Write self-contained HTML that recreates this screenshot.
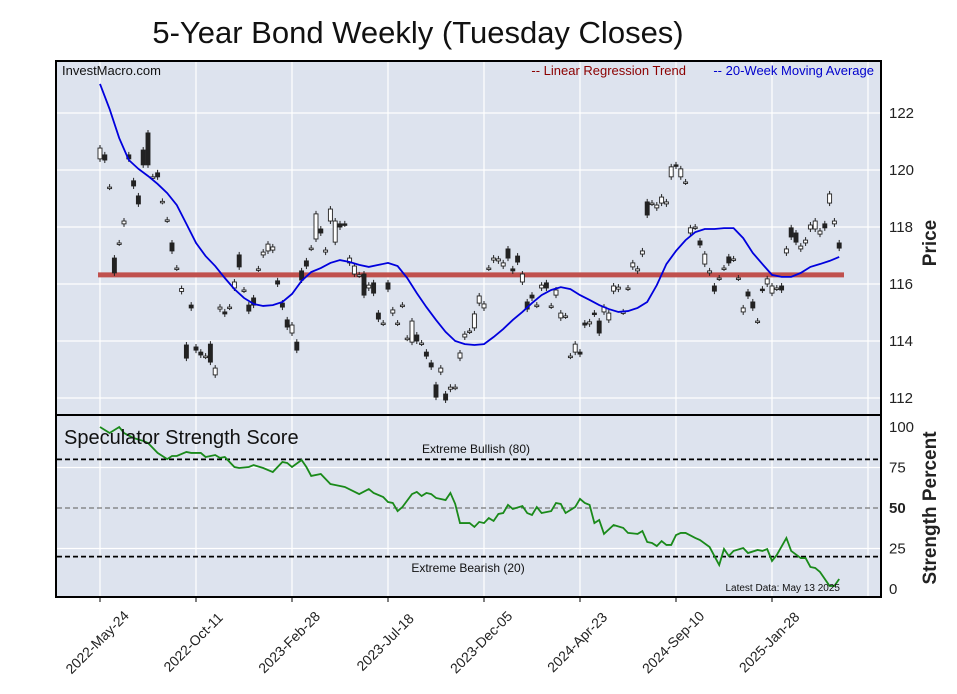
<!DOCTYPE html>
<html><head><meta charset="utf-8"><style>
body{margin:0;background:#fff;width:957px;height:694px;overflow:hidden}
svg{display:block;font-family:"Liberation Sans",Arial,sans-serif}
</style></head><body>
<svg id="chart" width="957" height="694" viewBox="0 0 957 694">
<text x="418" y="43" font-size="31" text-anchor="middle" fill="#111">5-Year Bond Weekly (Tuesday Closes)</text>
<rect x="56" y="61" width="825" height="354" fill="#dde3ee"/>
<rect x="56" y="415" width="825" height="182" fill="#dde3ee"/>
<g id="grid"></g>
<g id="marks"></g>
<rect x="56" y="61" width="825" height="536" fill="none" stroke="#000" stroke-width="2"/>
<line x1="56" y1="415" x2="881" y2="415" stroke="#000" stroke-width="2"/>
<text x="62" y="75" font-size="13" fill="#111">InvestMacro.com</text>
<text x="686" y="75" font-size="13" fill="#8b0000" text-anchor="end">-- Linear Regression Trend</text>
<text x="874" y="75" font-size="13" fill="#0000cc" text-anchor="end">-- 20-Week Moving Average</text>
<text x="64" y="444" font-size="20" fill="#111">Speculator Strength Score</text>
<text x="476" y="453" font-size="12" fill="#111" text-anchor="middle">Extreme Bullish (80)</text>
<text x="468" y="572" font-size="12" fill="#111" text-anchor="middle">Extreme Bearish (20)</text>
<text x="840" y="591" font-size="10" fill="#111" text-anchor="end">Latest Data: May 13 2025</text>
<text transform="translate(936,243) rotate(-90)" font-size="19" font-weight="bold" fill="#222" text-anchor="middle">Price</text>
<text transform="translate(936,508) rotate(-90)" font-size="19" font-weight="bold" fill="#222" text-anchor="middle">Strength Percent</text>
</svg>
<script>
const priceTicks=[112,114,116,118,120,122];
const strengthTicks=[0,25,50,75,100];
const dateLabels=["2022-May-24","2022-Oct-11","2023-Feb-28","2023-Jul-18","2023-Dec-05","2024-Apr-23","2024-Sep-10","2025-Jan-28"];
const dateWeeks=[0,20,40,60,80,100,120,140];
const candleHigh=[120.77,120.53,119.40,116.91,117.44,118.21,120.53,119.62,119.09,120.70,121.30,119.76,119.90,118.90,118.25,117.44,116.56,115.84,113.86,115.26,113.79,113.61,113.47,113.89,113.05,115.19,115.02,115.19,116.07,117.02,115.79,115.26,115.51,116.53,117.12,117.40,117.30,116.11,115.33,114.74,114.56,113.96,116.46,116.81,117.26,118.46,117.93,117.19,118.63,118.21,118.11,118.11,116.91,116.63,116.32,116.35,115.96,116.04,114.98,114.63,116.04,115.09,114.63,115.26,114.10,114.70,114.21,113.93,113.61,113.23,112.46,113.05,112.14,112.38,112.38,113.58,114.24,114.35,114.95,115.58,115.30,116.56,116.91,116.88,116.74,117.23,116.53,116.98,116.35,115.37,115.61,115.26,115.96,116.04,115.23,115.79,114.98,114.88,113.47,113.89,113.61,114.63,114.67,114.98,114.70,115.19,114.98,115.93,115.89,115.02,115.86,116.74,116.53,117.16,118.88,118.84,118.77,119.05,118.88,120.11,120.18,120.04,119.58,117.97,118.00,117.51,117.05,116.46,115.93,116.21,116.56,116.95,116.88,116.21,115.16,115.72,115.37,114.70,115.82,116.18,115.93,115.86,115.93,117.23,117.97,117.79,117.33,117.54,118.07,118.21,117.86,118.11,119.16,118.21,117.44];
const candleLow=[120.39,120.35,119.40,116.39,117.44,118.11,120.39,119.44,118.81,120.18,120.18,119.76,119.76,118.90,118.25,117.16,116.56,115.74,113.40,115.16,113.68,113.51,113.47,113.26,112.81,115.12,114.95,115.19,115.86,116.60,115.79,115.05,115.26,116.53,117.02,117.16,117.19,116.00,115.19,114.49,114.28,113.68,116.14,116.63,117.26,117.58,117.79,117.12,118.21,117.47,118.00,118.11,116.74,116.35,116.32,115.61,115.86,115.68,114.77,114.63,115.82,114.98,114.63,115.26,114.10,113.96,114.00,113.93,113.47,113.09,112.03,112.91,111.93,112.31,112.38,113.40,114.14,114.35,114.46,115.33,115.16,116.56,116.84,116.81,116.63,116.91,116.46,116.77,116.07,115.12,115.51,115.26,115.86,115.86,115.23,115.61,114.81,114.88,113.47,113.61,113.54,114.56,114.60,114.95,114.28,115.02,114.74,115.75,115.82,115.02,115.86,116.60,116.46,117.05,118.42,118.84,118.67,118.84,118.81,119.76,120.14,119.76,119.58,117.79,118.00,117.37,116.70,116.39,115.75,116.21,116.56,116.74,116.88,116.21,115.02,115.58,115.16,114.70,115.79,116.00,115.68,115.86,115.79,117.09,117.65,117.47,117.23,117.44,117.93,117.93,117.75,117.97,118.84,118.11,117.26];
const candleUp=[1,0,1,0,1,1,0,0,0,0,0,1,0,1,1,0,1,1,0,0,0,0,1,0,1,1,0,1,1,0,1,0,0,1,1,1,1,0,0,0,1,0,0,0,1,1,0,1,1,1,0,0,1,1,1,0,1,0,0,1,0,1,1,1,1,1,0,1,0,0,0,1,0,1,1,1,1,1,1,1,1,1,1,1,1,0,0,0,1,0,0,1,1,0,1,1,1,1,1,1,0,0,1,0,0,1,1,1,1,1,1,1,1,1,0,1,1,1,1,1,0,1,1,1,1,0,1,1,0,1,1,0,1,1,1,0,0,1,0,1,1,1,0,1,0,0,1,1,1,1,1,0,1,1,0];
const maValues=[123.02,122.14,121.12,120.35,120.04,119.79,119.51,119.19,118.77,118.11,117.44,116.98,116.63,116.21,115.82,115.51,115.30,115.23,115.26,115.37,115.65,116.11,116.42,116.56,116.74,116.84,116.77,116.67,116.60,116.67,116.74,116.63,116.21,115.68,115.19,114.74,114.32,114.00,113.89,113.86,113.89,114.14,114.42,114.74,115.02,115.33,115.61,115.79,115.89,115.82,115.61,115.44,115.26,115.12,115.02,115.05,115.16,115.37,115.96,116.70,117.16,117.54,117.82,117.93,117.93,117.96,117.96,117.61,117.09,116.70,116.32,116.25,116.25,116.39,116.60,116.70,116.81,116.95];
const trendValue=[116.32,116.32];
const strengthWeeks=[0,2,4,5,7,9,10,12,14,15,16,18,19,21,22,24,25,26,28,29,31,32,34,36,38,39,40,42,43,44,46,48,49,51,54,56,57,59,60,61,62,63,65,66,67,68,69,70,72,73,74,75,77,78,79,80,81,82,83,84,85,86,88,89,90,91,92,94,95,96,97,99,100,101,102,103,104,105,107,109,110,112,113,114,115,116,117,118,119,120,121,122,124,125,127,129,130,131,132,134,135,137,138,139,140,141,143,144,146,147,148,149,150,152,153,154];
const strengthValues=[100,96.3,100,96.3,93.2,91.4,90.1,84.0,80.2,82.1,82.1,84.6,84.0,84.0,81.5,82.7,80.9,81.5,75.3,74.7,75.3,76.5,74.7,72.2,78.4,77.8,75.3,79.6,75.3,69.8,71.0,64.8,64.2,63.0,58.6,61.7,59.3,56.8,53.7,53.1,48.1,50.6,58.6,59.9,57.4,59.3,58.6,56.2,54.9,59.3,52.5,40.7,40.7,38.3,41.4,40.7,43.8,42.0,46.3,46.9,51.9,49.4,51.2,46.9,45.7,50.6,46.9,48.1,53.1,52.5,46.9,50.6,55.6,53.1,51.9,40.7,42.6,34.0,39.5,37.7,34.6,34.0,35.8,29.0,28.4,26.5,29.6,27.2,27.2,33.3,34.6,34.6,31.5,30.2,25.9,14.8,24.7,20.4,23.5,25.3,22.2,24.1,23.5,24.7,17.3,21.0,31.5,23.5,19.1,19.1,13.6,13.0,10.5,1.9,1.9,6.2];
const strengthRefLines=[80,50,20];

const NS="http://www.w3.org/2000/svg";
const xw=w=>100+4.8*w;
const yp=p=>284-(p-116)*28.5;
const ys=s=>589-s*1.62;
const grid=document.getElementById('grid'), marks=document.getElementById('marks'), svg=document.getElementById('chart');
function mk(tag,attrs,parent){const e=document.createElementNS(NS,tag);for(const k in attrs)e.setAttribute(k,attrs[k]);parent.appendChild(e);return e;}

dateWeeks.concat([160]).forEach((w,i)=>{
  const l=mk('line',{x1:xw(w),x2:xw(w),y1:62,y2:596,stroke:'#fff','stroke-width':1.2},grid);
  
  
});
priceTicks.forEach(p=>{
  const l=mk('line',{x1:57,x2:880,y1:yp(p),y2:yp(p),stroke:'#fff','stroke-width':1.2},grid);
  
  
  const t=mk('text',{x:889,y:yp(p)+5,'font-size':15,fill:'#222'},svg);
  t.textContent=p;
  
  
});
strengthTicks.forEach(s=>{
  if(s>0&&s<100&&s!==50){const l=mk('line',{x1:57,x2:880,y1:ys(s),y2:ys(s),stroke:'#fff','stroke-width':1.2},grid);
  
  }
  const t=mk('text',{x:889,y:ys(s)+5,'font-size':15,fill:'#222','font-weight':s===50?'bold':'normal'},svg);
  t.textContent=s;
  
  
});
dateLabels.forEach((d,i)=>{
  const x=xw(dateWeeks[i]);
  const tk=mk('line',{x1:x,x2:x,y1:597,y2:602,stroke:'#000'},svg);
  
  
  const t=mk('text',{transform:`translate(${x-2},${643}) rotate(-45)`,'font-size':14,fill:'#222','text-anchor':'middle','dominant-baseline':'middle'},svg);
  t.textContent=d;
  
  
});
const tr=mk('line',{x1:xw(0)-2,x2:xw(155),y1:yp(trendValue[0]),y2:yp(trendValue[1]),stroke:'#c0504d','stroke-width':5},marks);


candleHigh.forEach((h,i)=>{
  const l=candleLow[i], x=xw(i), top=yp(h), bot=yp(l);
  const g=mk('g',{},marks);
  
  
  mk('line',{x1:x,x2:x,y1:top-3,y2:bot+3,stroke:'#222','stroke-width':1},g);
  const hgt=Math.max(bot-top,1.5);
  mk('rect',{x:x-2,y:top,width:4,height:hgt,fill:candleUp[i]?'#fff':'#222',stroke:'#222','stroke-width':0.9},g);
});
const ma=mk('path',{d:maValues.map((v,i)=>(i?'L':'M')+xw(i*2)+','+yp(v)).join(''),fill:'none',stroke:'#0000dd','stroke-width':1.8},marks);


strengthRefLines.forEach(s=>{
  const l=mk('line',{x1:57,x2:880,y1:ys(s),y2:ys(s),stroke:s===50?'#777':'#000','stroke-width':s===50?1.2:1.8,'stroke-dasharray':'5,3'},marks);
  
  
});
const sl=mk('path',{d:strengthValues.map((v,i)=>(i?'L':'M')+xw(strengthWeeks[i])+','+ys(v)).join(''),fill:'none',stroke:'#1a8a1a','stroke-width':1.8},marks);


</script>
</body></html>
